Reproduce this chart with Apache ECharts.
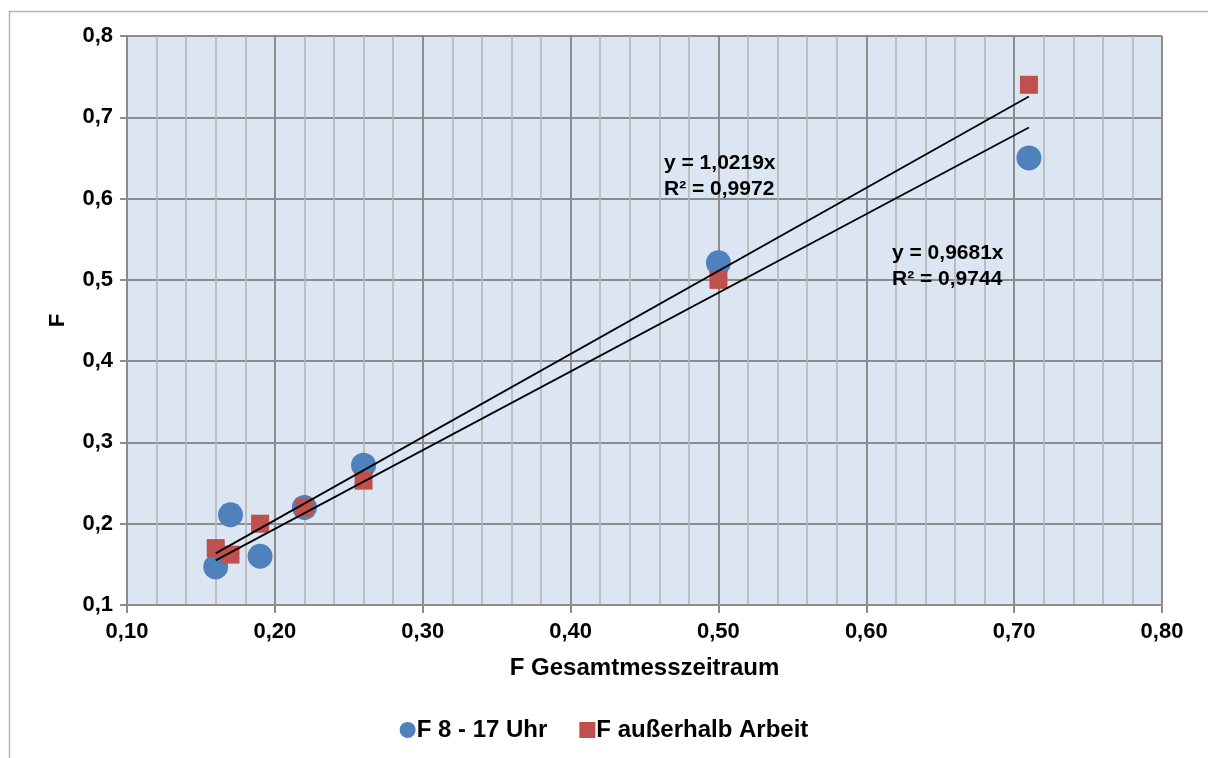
<!DOCTYPE html>
<html><head><meta charset="utf-8">
<script src="https://cdn.jsdelivr.net/npm/echarts@6/dist/echarts.min.js"></script>
<style>html,body{margin:0;padding:0;background:#fff}#c{width:1208px;height:758px}</style>
</head><body><div id="c"></div>
<script>
const seriesNames = ['F 8 - 17 Uhr', 'F außerhalb Arbeit'];
const xBlue = [0.16, 0.17, 0.19, 0.22, 0.26, 0.50, 0.71];
const yBlue = [0.147, 0.211, 0.160, 0.220, 0.272, 0.521, 0.650];
const xRed  = [0.16, 0.17, 0.19, 0.22, 0.26, 0.50, 0.71];
const yRed  = [0.170, 0.162, 0.200, 0.220, 0.253, 0.500, 0.740];
const trendSlopes = [1.0219, 0.9681];
const trendRange = [0.16, 0.71];
const trendLabels = ['y = 1,0219x\nR² = 0,9972', 'y = 0,9681x\nR² = 0,9744'];
const xTicks = [0.1, 0.8, 0.1];
const yTicks = [0.1, 0.8, 0.1];

const FONT = '"Liberation Sans", Arial, sans-serif';
const comma = (v, d) => v.toFixed(d).replace('.', ',');
const blueData = xBlue.map((x, i) => [x, yBlue[i]]);
const redData = xRed.map((x, i) => [x, yRed[i]]);
const trendData = trendSlopes.map(m => trendRange.map(x => [x, m * x]));

const chart = echarts.init(document.getElementById('c'), null, {renderer: 'canvas'});
chart.setOption({
  animation: false,
  backgroundColor: '#fff',
  grid: {left: 127, right: 46, top: 36, bottom: 153, show: true, backgroundColor: '#dce6f2', borderWidth: 0},
  xAxis: {
    type: 'value', min: xTicks[0], max: xTicks[1], interval: xTicks[2],
    name: 'F Gesamtmesszeitraum', nameLocation: 'middle', nameGap: 51,
    nameTextStyle: {fontFamily: FONT, fontWeight: 'bold', fontSize: 24, color: '#000'},
    axisLine: {show: true, onZero: false, lineStyle: {color: '#8c8c8c', width: 2}},
    axisTick: {show: true, length: 8, lineStyle: {color: '#8c8c8c', width: 2}},
    axisLabel: {formatter: v => comma(v, 2), fontFamily: FONT, fontWeight: 'bold', fontSize: 22, color: '#000', margin: 16},
    splitLine: {show: true, lineStyle: {color: '#8c8c8c', width: 2}},
    minorTick: {show: false, splitNumber: 5},
    minorSplitLine: {show: true, lineStyle: {color: '#b4b4b4', width: 1.6}}
  },
  yAxis: {
    type: 'value', min: yTicks[0], max: yTicks[1], interval: yTicks[2],
    name: 'F', nameLocation: 'middle', nameGap: 58, nameRotate: 90,
    nameTextStyle: {fontFamily: FONT, fontWeight: 'bold', fontSize: 22, color: '#000'},
    axisLine: {show: true, onZero: false, lineStyle: {color: '#8c8c8c', width: 2}},
    axisTick: {show: true, length: 7, lineStyle: {color: '#8c8c8c', width: 2}},
    axisLabel: {formatter: v => comma(v, 1), fontFamily: FONT, fontWeight: 'bold', fontSize: 22, color: '#000', margin: 14},
    splitLine: {show: true, lineStyle: {color: '#8c8c8c', width: 2}}
  },
  legend: {
    bottom: 11, left: 'center', itemGap: 32, itemWidth: 16, itemHeight: 16,
    data: [{name: seriesNames[0], icon: 'circle'}, {name: seriesNames[1], icon: 'rect'}],
    textStyle: {fontFamily: FONT, fontWeight: 'bold', fontSize: 24, color: '#000', padding: [0, 0, 0, -4]}
  },
  graphic: [
    {type: 'rect', left: 7, top: 9, z: -10, shape: {width: 1300, height: 800}, style: {fill: 'none', stroke: '#b4b4b4', lineWidth: 1.5}},
    {type: 'text', left: 664, top: 150, z: 100, style: {text: trendLabels[0], font: 'bold 21px ' + FONT, fill: '#000', lineHeight: 26}},
    {type: 'text', left: 892, top: 240, z: 100, style: {text: trendLabels[1], font: 'bold 21px ' + FONT, fill: '#000', lineHeight: 26}}
  ],
  series: [
    {name: seriesNames[0], type: 'scatter', data: blueData, symbol: 'circle', symbolSize: 25, itemStyle: {color: '#4f81bd', opacity: 1}, z: 3},
    {name: seriesNames[1], type: 'scatter', data: redData, symbol: 'rect', symbolSize: 18, itemStyle: {color: '#c0504d', opacity: 1}, z: 4},
    {name: 'trend1', type: 'line', data: trendData[0], symbol: 'none', lineStyle: {color: '#000', width: 1.8}, z: 5, silent: true},
    {name: 'trend2', type: 'line', data: trendData[1], symbol: 'none', lineStyle: {color: '#000', width: 1.8}, z: 5, silent: true}
  ]
});
</script></body></html>
